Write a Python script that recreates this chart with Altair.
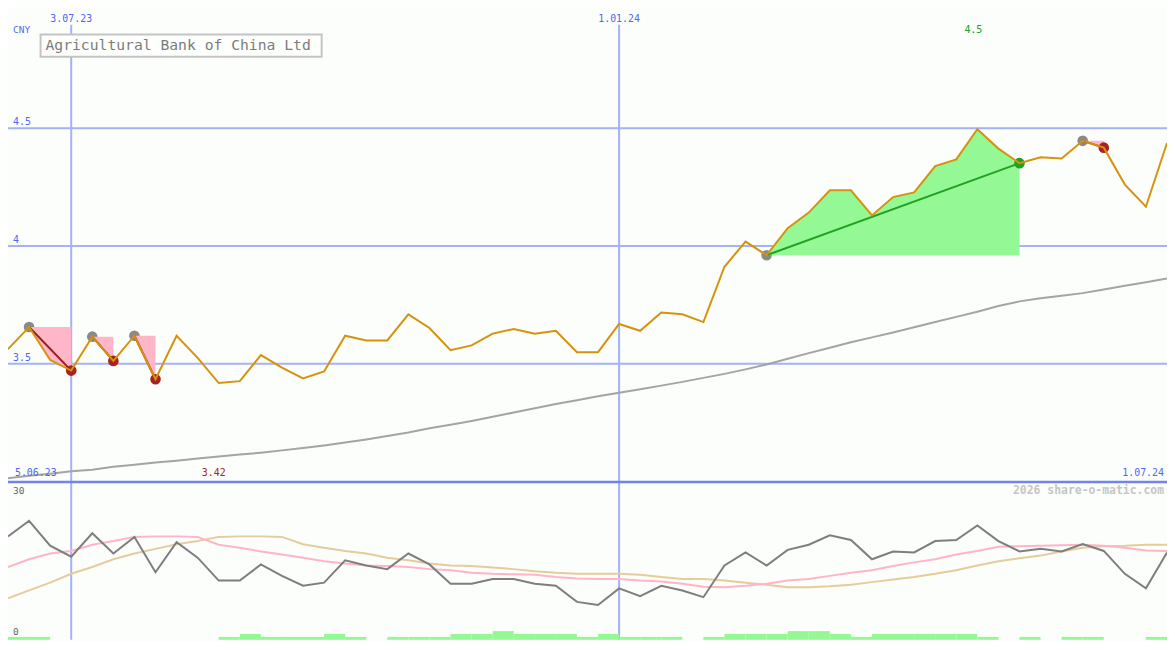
import altair as alt
import pandas as pd

# ---------------- data ----------------
dates = [
    "2023-06-12", "2023-06-19", "2023-06-26", "2023-07-03", "2023-07-10", "2023-07-17",
    "2023-07-24", "2023-07-31", "2023-08-07", "2023-08-14", "2023-08-21", "2023-08-28",
    "2023-09-04", "2023-09-11", "2023-09-18", "2023-09-25", "2023-10-02", "2023-10-09",
    "2023-10-16", "2023-10-23", "2023-10-30", "2023-11-06", "2023-11-13", "2023-11-20",
    "2023-11-27", "2023-12-04", "2023-12-11", "2023-12-18", "2023-12-25", "2024-01-01",
    "2024-01-08", "2024-01-15", "2024-01-22", "2024-01-29", "2024-02-05", "2024-02-12",
    "2024-02-19", "2024-02-26", "2024-03-04", "2024-03-11", "2024-03-18", "2024-03-25",
    "2024-04-01", "2024-04-08", "2024-04-15", "2024-04-22", "2024-04-29", "2024-05-06",
    "2024-05-13", "2024-05-20", "2024-05-27", "2024-06-03", "2024-06-10", "2024-06-17",
    "2024-06-24", "2024-07-01",
]
price = [
    3.562, 3.656, 3.516, 3.471, 3.615, 3.512, 3.619, 3.434, 3.619, 3.525,
    3.418, 3.426, 3.537, 3.484, 3.438, 3.467, 3.619, 3.599, 3.599, 3.710,
    3.652, 3.558, 3.578, 3.628, 3.648, 3.628, 3.640, 3.549, 3.549, 3.669,
    3.640, 3.718, 3.710, 3.677, 3.912, 4.019, 3.961, 4.076, 4.142, 4.237,
    4.237, 4.130, 4.208, 4.228, 4.340, 4.368, 4.496, 4.414, 4.352, 4.377,
    4.372, 4.447, 4.418, 4.261, 4.167, 4.438,
]
ma_long = [
    3.014, 3.024, 3.033, 3.043, 3.050, 3.062, 3.071, 3.080, 3.088, 3.097,
    3.106, 3.114, 3.122, 3.132, 3.142, 3.153, 3.165, 3.178, 3.193, 3.208,
    3.226, 3.241, 3.257, 3.275, 3.293, 3.311, 3.329, 3.345, 3.362, 3.377,
    3.392, 3.407, 3.423, 3.440, 3.457, 3.476, 3.497, 3.521, 3.545, 3.568,
    3.591, 3.612, 3.633, 3.655, 3.677, 3.699, 3.721, 3.745, 3.765, 3.778,
    3.789, 3.800, 3.815, 3.831, 3.846, 3.862,
]
osc_gray = [
    19.9, 22.9, 18.1, 16.0, 20.5, 16.6, 19.8, 13.0, 18.8, 15.8,
    11.4, 11.4, 14.5, 12.3, 10.4, 11.0, 15.3, 14.3, 13.6, 16.6,
    14.5, 10.8, 10.8, 11.7, 11.7, 10.8, 10.4, 7.3, 6.7, 9.9,
    8.4, 10.4, 9.5, 8.2, 14.3, 16.8, 14.3, 17.3, 18.3, 20.1,
    19.2, 15.5, 17.0, 16.8, 19.0, 19.2, 22.0, 19.0, 17.0, 17.5,
    17.0, 18.4, 17.1, 12.7, 9.9, 16.8,
]
osc_pink = [
    14.0, 15.5, 16.6, 17.1, 18.3, 19.0, 19.8, 19.9, 19.9, 19.8,
    18.3, 17.7, 17.0, 16.4, 15.8, 15.1, 14.7, 14.3, 14.2, 14.0,
    13.6, 13.4, 12.9, 12.7, 12.6, 12.5, 12.1, 11.8, 11.7, 11.7,
    11.4, 11.2, 10.8, 10.2, 10.1, 10.4, 10.8, 11.4, 11.7, 12.3,
    12.9, 13.4, 14.2, 14.9, 15.5, 16.4, 17.1, 17.9, 18.0, 18.1,
    18.2, 18.3, 18.1, 17.7, 17.2, 17.1,
]
osc_tan = [
    8.0, 9.5, 11.0, 12.7, 14.0, 15.5, 16.6, 17.5, 18.4, 19.0,
    19.8, 19.9, 19.9, 19.8, 18.4, 17.7, 17.1, 16.6, 15.8, 15.3,
    14.7, 14.3, 14.2, 13.9, 13.6, 13.2, 12.9, 12.7, 12.7, 12.7,
    12.5, 12.1, 11.7, 11.7, 11.4, 11.0, 10.6, 10.1, 10.1, 10.3,
    10.6, 11.1, 11.6, 12.1, 12.7, 13.4, 14.3, 15.1, 15.7, 16.2,
    17.0, 17.7, 18.0, 18.1, 18.3, 18.3,
]
vol_level = [
    1, 1, 0, 0, 0, 0, 0, 0, 0, 0,
    1, 2, 1, 1, 1, 2, 1, 0, 1, 1,
    1, 2, 2, 3, 2, 2, 2, 1, 2, 1,
    1, 1, 0, 1, 2, 2, 2, 3, 3, 2,
    1, 2, 2, 2, 2, 2, 1, 0, 1, 0,
    1, 1, 0, 0, 1,
]
trade_entry = ["2023-06-19", "2023-07-10", "2023-07-24", "2024-02-19", "2024-06-03"]
trade_exit = ["2023-07-03", "2023-07-17", "2023-07-31", "2024-05-13", "2024-06-10"]

grid_levels = [3.5, 4.0, 4.5]
grid_labels = ["3.5", "4", "4.5"]
date_marks = ["2023-07-03", "2024-01-01"]
date_mark_labels = ["3.07.23", "1.01.24"]
title_text = "Agricultural Bank of China Ltd"
currency = "CNY"
start_label, end_label = "5.06.23", "1.07.24"
osc_top_label, osc_bottom_label = "30", "0"
credit = "2026 share-o-matic.com"

# ---------------- layout / style ----------------
W, H = 1167, 634
SX, SY = W / 1175, H / 650
FONT = "DejaVu Sans Mono"
BG = "#fbfefb"
BLUE_TXT = "#5566ee"
GRID = "#a6b2f2"
PRICE_C = "#d6920c"
PINK = "#ffb6c8"
GREEN_FILL = "#94f994"

xscale = alt.Scale(
    domain=[alt.DateTime(year=2023, month=6, date=12, utc=True),
            alt.DateTime(year=2024, month=7, date=1, utc=True)],
    nice=False,
)
pscale = alt.Scale(domain=[3.0, 5.0], range=[486.5 * SY, 0.5 * SY], nice=False, zero=False)
oscale = alt.Scale(domain=[0, 30], range=[H, 489 * SY], nice=False, zero=False)
vscale = alt.Scale(domain=[0, 3], range=[H, H - 9 * SY], nice=False, zero=False)

X = lambda f="date": alt.X(f"{f}:T", scale=xscale, axis=None)
YP = lambda f: alt.Y(f"{f}:Q", scale=pscale, axis=None)
YO = lambda f: alt.Y(f"{f}:Q", scale=oscale, axis=None)

df = pd.DataFrame({"date": dates, "price": price, "ma": ma_long,
                   "g": osc_gray, "p": osc_pink, "t": osc_tan})
df_vol = pd.DataFrame({"start": dates[:-1], "end": dates[1:], "level": vol_level})
df_vol = df_vol[df_vol["level"] > 0]

area_rows, pt_rows, line_rows = [], [], []
for k, (e, x) in enumerate(zip(trade_entry, trade_exit)):
    i0, i1 = dates.index(e), dates.index(x)
    entry = price[i0]
    outcome = "gain" if price[i1] > entry else "loss"
    for j in range(i0, i1 + 1):
        area_rows.append({"trade": k, "date": dates[j], "price": price[j], "entry": entry, "outcome": outcome})
    pt_rows.append({"trade": k, "date": dates[i0], "price": entry, "kind": "entry"})
    pt_rows.append({"trade": k, "date": dates[i1], "price": price[i1], "kind": outcome})
    line_rows.append({"trade": k, "date": dates[i0], "price": entry, "outcome": outcome})
    line_rows.append({"trade": k, "date": dates[i1], "price": price[i1], "outcome": outcome})
df_area = pd.DataFrame(area_rows)
df_pts = pd.DataFrame(pt_rows)
df_lines = pd.DataFrame(line_rows)

one = pd.DataFrame({"k": [0]})


def txt(s, x, y, color, size, align="left", weight="normal"):
    return alt.Chart(pd.DataFrame({"s": [s]})).mark_text(
        font=FONT, fontSize=size, color=color, align=align, baseline="middle", fontWeight=weight
    ).encode(text="s:N", x=alt.value(x * SX), y=alt.value(y * SY))


layers = []

# gridlines
layers.append(alt.Chart(pd.DataFrame({"level": grid_levels})).mark_rule(color=GRID, strokeWidth=2)
              .encode(y=YP("level"), x=alt.value(0), x2=alt.value(W)))
layers.append(alt.Chart(pd.DataFrame({"date": date_marks})).mark_rule(color="#a3b1f5", strokeWidth=2)
              .encode(x=X(), y=alt.value(15 * SY), y2=alt.value(H)))
layers.append(alt.Chart(one).mark_rule(color="#7282ee", strokeWidth=2.5)
              .encode(y=alt.value(487 * SY), x=alt.value(0), x2=alt.value(W)))

# long moving average
layers.append(alt.Chart(df).mark_line(color="#a4a4a4", strokeWidth=2).encode(x=X(), y=YP("ma")))

# entry dots
layers.append(alt.Chart(df_pts[df_pts["kind"] == "entry"]).mark_circle(color="#8a8a8a", opacity=1, size=115)
              .encode(x=X(), y=YP("price")))
# trade areas
layers.append(alt.Chart(df_area[df_area["outcome"] == "loss"]).mark_area(color=PINK, opacity=1)
              .encode(x=X(), y=YP("price"), y2="entry:Q", detail="trade:N"))
layers.append(alt.Chart(df_area[df_area["outcome"] == "gain"]).mark_area(color=GREEN_FILL, opacity=1)
              .encode(x=X(), y=YP("price"), y2="entry:Q", detail="trade:N"))
# exit dots
layers.append(alt.Chart(df_pts[df_pts["kind"] == "loss"]).mark_circle(color="#a82222", opacity=1, size=115)
              .encode(x=X(), y=YP("price")))
layers.append(alt.Chart(df_pts[df_pts["kind"] == "gain"]).mark_circle(color="#22a022", opacity=1, size=115)
              .encode(x=X(), y=YP("price")))
# trade lines
layers.append(alt.Chart(df_lines[df_lines["outcome"] == "loss"]).mark_line(color="#9c1c1c", strokeWidth=2)
              .encode(x=X(), y=YP("price"), detail="trade:N"))
layers.append(alt.Chart(df_lines[df_lines["outcome"] == "gain"]).mark_line(color="#22a022", strokeWidth=2)
              .encode(x=X(), y=YP("price"), detail="trade:N"))
# price line
layers.append(alt.Chart(df).mark_line(color=PRICE_C, strokeWidth=2).encode(x=X(), y=YP("price")))

# lower panel
layers.append(alt.Chart(df).mark_line(color="#e6cc9c", strokeWidth=2).encode(x=X(), y=YO("t")))
layers.append(alt.Chart(df).mark_line(color="#ffb4c8", strokeWidth=2).encode(x=X(), y=YO("p")))
layers.append(alt.Chart(df).mark_line(color="#7e7e7e", strokeWidth=2).encode(x=X(), y=YO("g")))
layers.append(alt.Chart(df_vol).mark_rect(color=GREEN_FILL, opacity=1)
              .encode(x=X("start"), x2="end:T",
                      y=alt.Y("level:Q", scale=vscale, axis=None), y2=alt.datum(0)))

# title box
layers.append(alt.Chart(one).mark_rect(fill="#fcfffc", stroke="#c4c4c4", strokeWidth=2)
              .encode(x=alt.value(33 * SX), x2=alt.value(318 * SX), y=alt.value(25 * SY), y2=alt.value(48 * SY)))
layers.append(txt(title_text, 38, 37, "#7c7c7c", 14.8))

# texts
layers.append(txt(currency, 5, 20, BLUE_TXT, 9.6))
layers.append(alt.Chart(pd.DataFrame({"date": date_marks, "label": date_mark_labels}))
              .mark_text(font=FONT, fontSize=10, color=BLUE_TXT, align="center", baseline="middle")
              .encode(x=X(), y=alt.value(9 * SY), text="label:N"))
layers.append(alt.Chart(pd.DataFrame({"level": grid_levels, "label": grid_labels}))
              .mark_text(font=FONT, fontSize=10, color=BLUE_TXT, align="left", baseline="middle", dy=-6)
              .encode(y=YP("level"), x=alt.value(5 * SX), text="label:N"))

imax = max(range(len(price)), key=lambda i: price[i])
imin = min(range(len(price)), key=lambda i: price[i])
fmt = lambda v: f"{v:.2f}".rstrip("0").rstrip(".")
layers.append(alt.Chart(pd.DataFrame({"date": [dates[imax]], "label": [fmt(price[imax])]}))
              .mark_text(font=FONT, fontSize=10, color="#22a022", align="center", baseline="middle", dx=-4)
              .encode(x=X(), y=alt.value(21 * SY), text="label:N"))
layers.append(alt.Chart(pd.DataFrame({"date": [dates[imin]], "label": [fmt(price[imin])]}))
              .mark_text(font=FONT, fontSize=10, color="#a82222", align="center", baseline="middle", dx=-5)
              .encode(x=X(), y=alt.value(478 * SY), text="label:N"))

layers.append(txt(start_label, 7, 478, BLUE_TXT, 10))
layers.append(txt(end_label, 1172, 478, BLUE_TXT, 10, align="right"))
layers.append(txt(osc_top_label, 5, 496, "#666666", 9.6))
layers.append(txt(osc_bottom_label, 5, 642, "#666666", 9.6))
layers.append(txt(credit, 1172, 496, "#c6c6c6", 11.5, align="right", weight="bold"))

chart = alt.layer(*layers).resolve_scale(y="independent").properties(
    width=W, height=H, padding=0,
    autosize=alt.AutoSizeParams(type="none"),
    background=BG,
).configure_view(stroke=None)

chart.save("out.html", embed_options={"renderer": "svg", "actions": False})
